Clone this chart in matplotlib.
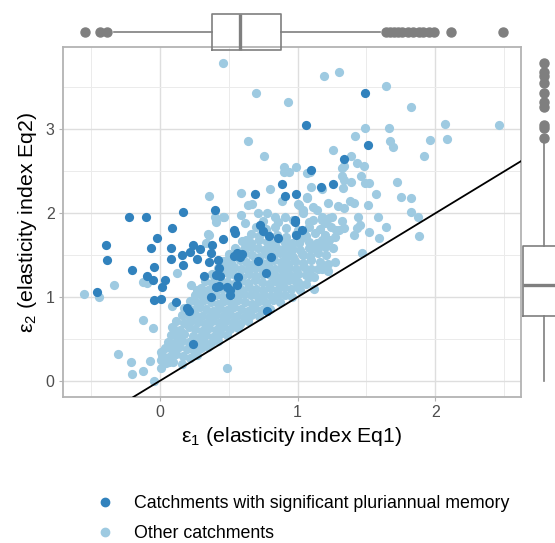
import numpy as np
import matplotlib
matplotlib.use("Agg")
import matplotlib.pyplot as plt
from matplotlib.lines import Line2D

plt.rcParams["font.family"] = ["Liberation Sans", "DejaVu Sans"]
plt.rcParams["mathtext.fontset"] = "custom"
plt.rcParams["mathtext.rm"] = "Liberation Sans"
plt.rcParams["mathtext.it"] = "Liberation Sans:italic"

# ---------------------------------------------------------------------------
# Data
# ---------------------------------------------------------------------------
# catchments with significant pluriannual memory: (eps1, eps2)
memory_pts = [
    (1.49, 3.43), (1.06, 3.05), (1.51, 2.81), (1.34, 2.65), (1.10, 2.51), (0.89, 2.35),
    (0.91, 2.21), (0.99, 2.23), (1.17, 2.31), (1.26, 2.35), (0.98, 1.92), (0.69, 2.23),
    (0.40, 2.04), (0.17, 2.01), (-0.10, 1.95), (-0.22, 1.95), (0.09, 1.82), (-0.02, 1.70),
    (-0.39, 1.62), (-0.38, 1.44), (-0.06, 1.58), (0.08, 1.58), (-0.20, 1.32), (-0.04, 1.36),
    (-0.09, 1.25), (-0.05, 1.20), (0.04, 1.20), (0.02, 1.12), (-0.45, 1.06), (-0.04, 0.96),
    (0.01, 0.98), (0.12, 0.94), (0.21, 0.83), (0.24, 0.44), (0.16, 1.50), (0.17, 1.38),
    (0.24, 1.62), (0.29, 1.57), (0.27, 1.45), (0.22, 1.54), (0.08, 1.46), (0.37, 1.52),
    (0.36, 1.42), (0.38, 1.62), (0.46, 1.69), (0.54, 1.80), (0.55, 1.76), (0.42, 1.44),
    (0.43, 1.35), (0.41, 1.26), (0.32, 1.25), (0.44, 1.25), (0.43, 1.13), (0.41, 1.12),
    (0.51, 1.08), (0.51, 1.02), (0.56, 1.14), (0.57, 1.24), (0.37, 1.00), (0.49, 1.12),
    (0.56, 1.52), (0.58, 1.48), (0.54, 1.49), (0.60, 1.51), (0.71, 1.43), (0.77, 1.29),
    (0.81, 1.48), (0.73, 1.86), (0.75, 1.79), (0.79, 1.73), (0.86, 1.71), (0.98, 1.89),
    (0.99, 1.74), (1.03, 1.80), (0.78, 0.83), (0.20, 0.87),
]

# other catchments, scattered points
other_pts = [
    (0.46, 3.79), (0.70, 3.43), (0.93, 3.32), (1.19, 3.63), (1.30, 3.68), (1.64, 3.52),
    (1.82, 3.26), (1.49, 3.01), (1.66, 3.01), (2.07, 3.06), (2.46, 3.05), (1.42, 2.92),
    (1.67, 2.86), (1.69, 2.79), (1.96, 2.87), (2.08, 2.88), (1.92, 2.68), (1.26, 2.75),
    (1.39, 2.68), (0.64, 2.86), (0.76, 2.68), (1.43, 2.60), (1.48, 2.56), (1.32, 2.54),
    (1.34, 2.56), (1.46, 2.44), (1.49, 2.36), (1.52, 2.36), (1.32, 2.44), (1.34, 2.40),
    (1.39, 2.37), (1.72, 2.37), (1.10, 2.31), (1.18, 2.29), (1.33, 2.30), (1.57, 2.23),
    (1.75, 2.19), (1.82, 2.18), (1.82, 2.01), (1.87, 1.95), (0.90, 2.55), (0.90, 2.49),
    (0.94, 2.49), (0.99, 2.55), (1.07, 2.48), (1.09, 2.49), (0.80, 2.29), (0.59, 2.24),
    (0.36, 2.20), (0.67, 2.11), (0.89, 2.15), (1.00, 2.11), (1.07, 2.18), (0.71, 2.00),
    (0.78, 2.00), (0.59, 1.98), (0.46, 1.96), (0.40, 1.96), (0.64, 2.10), (0.47, 1.95),
    (0.41, 1.89), (0.62, 1.88), (1.22, 2.12), (1.29, 2.08), (1.34, 2.06), (1.38, 2.15),
    (1.41, 2.12), (1.51, 2.10), (1.44, 1.95), (1.58, 1.95), (1.07, 2.19), (1.01, 2.10),
    (1.11, 2.07), (1.04, 2.04), (1.14, 2.04), (1.18, 1.95), (1.25, 1.96), (0.84, 1.96),
    (0.91, 1.95), (1.88, 1.73), (1.64, 1.83), (1.59, 1.71), (1.52, 1.77), (1.45, 1.86),
    (1.43, 1.82), (1.41, 1.74), (1.30, 1.80), (1.28, 1.80), (1.23, 1.68), (1.18, 1.68),
    (1.14, 1.64), (1.11, 1.58), (1.47, 1.52), (1.27, 1.42), (1.15, 1.33), (1.22, 1.31),
    (1.08, 1.24), (1.12, 1.10), (1.00, 1.12), (0.99, 1.18), (1.04, 1.50), (0.96, 1.56),
    (0.92, 1.48), (0.89, 1.36), (0.91, 1.24), (0.87, 1.12), (1.18, 1.92), (1.23, 1.94),
    (1.11, 1.92), (1.04, 2.00), (1.05, 1.76), (1.01, 1.65),
    (-0.55, 1.04), (-0.44, 1.00), (-0.33, 1.15), (-0.12, 1.18), (-0.09, 1.17), (0.13, 1.29),
    (0.09, 0.89), (-0.12, 0.73), (-0.05, 0.63), (-0.30, 0.32), (-0.21, 0.23), (-0.20, 0.08),
    (-0.12, 0.12), (-0.07, 0.24), (0.01, 0.35), (0.01, 0.15), (-0.04, 0.00), (0.09, 0.64),
    (0.11, 0.58), (0.07, 0.45), (0.12, 0.40), (0.49, 0.15), (0.35, 1.75), (0.36, 1.74),
    (0.34, 1.65), (0.49, 1.44), (0.23, 1.14), (0.27, 1.08), (0.31, 1.05), (0.47, 1.30),
    (0.52, 1.32), (0.63, 1.68), (0.63, 1.60), (0.01, 0.25), (0.07, 0.23),
]

# other catchments, dense core along the 1:1 line
other_core = [
    (0.05, 0.21), (0.10, 0.23), (0.16, 0.20),
    (0.02, 0.31), (0.07, 0.29), (0.12, 0.32), (0.17, 0.30), (0.22, 0.28), (0.27, 0.31),
    (0.04, 0.39), (0.09, 0.37), (0.14, 0.40), (0.20, 0.38), (0.25, 0.36), (0.30, 0.39), (0.35, 0.40),
    (0.06, 0.47), (0.11, 0.45), (0.16, 0.48), (0.21, 0.46), (0.27, 0.44), (0.32, 0.47), (0.37, 0.45),
    (0.42, 0.48),
    (0.08, 0.55), (0.13, 0.53), (0.18, 0.56), (0.24, 0.54), (0.29, 0.52), (0.34, 0.55), (0.39, 0.53),
    (0.44, 0.56), (0.49, 0.55),
    (0.10, 0.63), (0.15, 0.61), (0.21, 0.64), (0.26, 0.62), (0.31, 0.60), (0.36, 0.63), (0.41, 0.61),
    (0.46, 0.64), (0.51, 0.62), (0.57, 0.63),
    (0.12, 0.71), (0.18, 0.69), (0.23, 0.72), (0.28, 0.70), (0.33, 0.68), (0.38, 0.71), (0.43, 0.69),
    (0.48, 0.72), (0.53, 0.70), (0.58, 0.68), (0.64, 0.71),
    (0.16, 0.79), (0.21, 0.77), (0.26, 0.80), (0.31, 0.78), (0.36, 0.76), (0.41, 0.79), (0.46, 0.77),
    (0.51, 0.80), (0.56, 0.78), (0.61, 0.76), (0.66, 0.79), (0.72, 0.78),
    (0.18, 0.87), (0.24, 0.85), (0.29, 0.88), (0.34, 0.86), (0.39, 0.84), (0.44, 0.87), (0.49, 0.85),
    (0.54, 0.88), (0.59, 0.86), (0.64, 0.84), (0.69, 0.87), (0.74, 0.85), (0.80, 0.86),
    (0.22, 0.95), (0.27, 0.93), (0.32, 0.96), (0.37, 0.94), (0.42, 0.92), (0.47, 0.95), (0.52, 0.93),
    (0.57, 0.96), (0.62, 0.94), (0.67, 0.92), (0.72, 0.95), (0.77, 0.93), (0.82, 0.96), (0.87, 0.94),
    (0.26, 1.03), (0.31, 1.01), (0.36, 1.04), (0.41, 1.02), (0.46, 1.00), (0.51, 1.03), (0.56, 1.01),
    (0.61, 1.04), (0.66, 1.02), (0.71, 1.00), (0.76, 1.03), (0.81, 1.01), (0.86, 1.04), (0.91, 1.02),
    (0.96, 1.00),
    (0.30, 1.11), (0.35, 1.09), (0.40, 1.12), (0.45, 1.10), (0.50, 1.08), (0.55, 1.11), (0.60, 1.09),
    (0.65, 1.12), (0.70, 1.10), (0.75, 1.08), (0.80, 1.11), (0.85, 1.09), (0.90, 1.12), (0.95, 1.10),
    (1.02, 1.08),
    (0.33, 1.19), (0.38, 1.17), (0.44, 1.20), (0.49, 1.18), (0.54, 1.16), (0.59, 1.19), (0.64, 1.17),
    (0.69, 1.20), (0.74, 1.18), (0.79, 1.16), (0.84, 1.19), (0.89, 1.17), (0.94, 1.20), (1.00, 1.18),
    (1.06, 1.16),
    (0.38, 1.27), (0.44, 1.25), (0.50, 1.28), (0.55, 1.26), (0.60, 1.24), (0.65, 1.27), (0.70, 1.25),
    (0.75, 1.28), (0.80, 1.26), (0.85, 1.24), (0.90, 1.27), (0.95, 1.25), (1.00, 1.28), (1.06, 1.26),
    (1.12, 1.24),
    (0.42, 1.35), (0.48, 1.33), (0.54, 1.36), (0.59, 1.34), (0.64, 1.32), (0.69, 1.35), (0.74, 1.33),
    (0.79, 1.36), (0.84, 1.34), (0.89, 1.32), (0.94, 1.35), (0.99, 1.33), (1.05, 1.36), (1.10, 1.34),
    (1.18, 1.33),
    (0.46, 1.43), (0.52, 1.41), (0.58, 1.44), (0.63, 1.42), (0.68, 1.40), (0.73, 1.43), (0.78, 1.41),
    (0.83, 1.44), (0.88, 1.42), (0.93, 1.40), (0.98, 1.43), (1.04, 1.41), (1.10, 1.44), (1.16, 1.42),
    (1.22, 1.40),
    (0.50, 1.51), (0.56, 1.49), (0.62, 1.52), (0.67, 1.50), (0.72, 1.48), (0.77, 1.51), (0.82, 1.49),
    (0.87, 1.52), (0.92, 1.50), (0.97, 1.48), (1.03, 1.51), (1.09, 1.49), (1.15, 1.52), (1.21, 1.50),
    (0.55, 1.59), (0.61, 1.57), (0.66, 1.60), (0.71, 1.58), (0.76, 1.56), (0.81, 1.59), (0.86, 1.57),
    (0.91, 1.60), (0.96, 1.58), (1.02, 1.56), (1.08, 1.59), (1.14, 1.57), (1.20, 1.60), (1.26, 1.58),
    (0.60, 1.67), (0.66, 1.65), (0.72, 1.68), (0.78, 1.66), (0.84, 1.64), (0.90, 1.67), (0.96, 1.65),
    (1.02, 1.68), (1.08, 1.66), (1.15, 1.64), (1.22, 1.67),
    (0.66, 1.75), (0.72, 1.73), (0.78, 1.76), (0.85, 1.74), (0.92, 1.72), (0.99, 1.75), (1.06, 1.73),
    (1.13, 1.76), (1.20, 1.74), (1.27, 1.72),
    (0.70, 1.83), (0.77, 1.81), (0.84, 1.84), (0.92, 1.82), (1.00, 1.80), (1.08, 1.83), (1.16, 1.81),
    (1.24, 1.84), (1.34, 1.82),
    (0.75, 1.91), (0.86, 1.89), (0.97, 1.92), (1.08, 1.90), (1.20, 1.88), (1.32, 1.91),
]

# marginal boxplot statistics (eps1 on top, eps2 on the right)
eps1_box = dict(whislo=-0.33, q1=0.38, med=0.58, q3=0.88, whishi=1.60,
                fliers=[-0.54, -0.43, -0.38, 1.64, 1.67, 1.70, 1.73, 1.76, 1.80, 1.84,
                        1.88, 1.91, 1.95, 1.99, 2.11, 2.49])
eps2_box = dict(whislo=0.00, q1=0.77, med=1.14, q3=1.61, whishi=2.86,
                fliers=[2.90, 3.02, 3.05, 3.26, 3.32, 3.43, 3.55, 3.64, 3.68, 3.79])

LABELS = ["Catchments with significant pluriannual memory", "Other catchments"]
DARK = "#3182BD"
LIGHT = "#9ECAE1"
GREY = "#7F7F7F"

XLIM = (-0.70, 2.62)
YLIM = (-0.19, 3.98)

# ---------------------------------------------------------------------------
# Figure
# ---------------------------------------------------------------------------
W, H = 555, 543
fig = plt.figure(figsize=(W / 100, H / 100), dpi=100)


def px_axes(x0, y0, x1, y1):
    """Axes from pixel box (top-left origin)."""
    return fig.add_axes([x0 / W, 1 - y1 / H, (x1 - x0) / W, (y1 - y0) / H])


ax = px_axes(63, 47, 521, 397)
ax_top = px_axes(63, 8, 521, 56)
ax_right = px_axes(515, 47, 573, 397)

# main scatter
light = np.array(other_pts + other_core)
dark = np.array(memory_pts)
ax.scatter(light[:, 0], light[:, 1], s=44, color=LIGHT, lw=0, zorder=2)
ax.scatter(dark[:, 0], dark[:, 1], s=44, color=DARK, lw=0, zorder=3)
ax.axline((0, 0), slope=1, color="black", lw=1.3, zorder=4)

ax.set_xlim(*XLIM)
ax.set_ylim(*YLIM)
ax.set_xticks([0, 1, 2])
ax.set_xticks([-0.5, 0.5, 1.5, 2.5], minor=True)
ax.set_yticks([0, 1, 2, 3])
ax.set_yticks([0.5, 1.5, 2.5, 3.5], minor=True)
ax.grid(which="major", color="#DEDEDE", lw=1.0, zorder=0)
ax.grid(which="minor", color="#EBEBEB", lw=0.7, zorder=0)
ax.set_axisbelow(True)
for sp in ax.spines.values():
    sp.set_color("#B3B3B3")
    sp.set_linewidth(1.3)
ax.tick_params(which="major", length=3, width=0.8, color="#B3B3B3",
               labelsize=11.5, labelcolor="#4D4D4D", pad=3)
ax.tick_params(which="minor", length=0)
ax.set_xlabel("ε$_1$ (elasticity index Eq1)", fontsize=15.3, color="black", labelpad=3)
ax.set_ylabel("ε$_2$ (elasticity index Eq2)", fontsize=15.3, color="black", labelpad=5)

# marginal boxplots
box_style = dict(
    boxprops=dict(color=GREY, lw=1.2),
    whiskerprops=dict(color=GREY, lw=1.2),
    medianprops=dict(color=GREY, lw=2.4),
    flierprops=dict(marker="o", markerfacecolor=GREY, markeredgecolor=GREY, markersize=6.5),
    showcaps=False,
)
ax_top.bxp([eps1_box], positions=[0.5], widths=0.73, vert=False, **box_style)
ax_top.set_xlim(*XLIM)
ax_top.set_ylim(0, 1)
ax_top.axis("off")

ax_right.bxp([eps2_box], positions=[0.5], widths=0.73, vert=True, **box_style)
ax_right.set_ylim(*YLIM)
ax_right.set_xlim(0, 1)
ax_right.axis("off")

# legend (second entry kept fully inside the canvas)
handles = [
    Line2D([], [], marker="o", ls="", color=DARK, markersize=6, label=LABELS[0]),
    Line2D([], [], marker="o", ls="", color=LIGHT, markersize=6, label=LABELS[1]),
]
fig.legend(handles=handles, loc="upper left", bbox_to_anchor=(96 / W, 1 - 495 / H),
           frameon=False, fontsize=12.8, handlelength=1.0, handletextpad=1.15,
           labelspacing=0.72, borderpad=0, borderaxespad=0)

fig.savefig("out.png", dpi=100)
